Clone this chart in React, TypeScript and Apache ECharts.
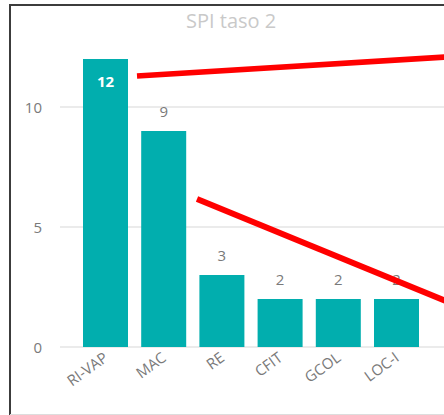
import React, { useEffect, useRef } from "react";
import * as echarts from "echarts";

const categories = ["RI-VAP", "MAC", "RE", "CFIT", "GCOL", "LOC-I"];
const values = [12, 9, 3, 2, 2, 2];
const yTicks = { min: 0, max: 12, interval: 5 };
const titleText = "SPI taso 2";

const FONT = '"Segoe UI", "Open Sans", sans-serif';
const BAR = "#01AEAE";
const LABEL = "#7a7a7a";

export default function App() {
  const ref = useRef<HTMLDivElement>(null);
  useEffect(() => {
    if (!ref.current) return;
    const chart = echarts.init(ref.current, undefined, { renderer: "svg" });
    chart.setOption({
      animation: false,
      backgroundColor: "#ffffff",
      title: {
        text: titleText,
        left: 186,
        top: 10,
        padding: 0,
        textStyle: { fontFamily: FONT, fontSize: 20, fontWeight: "normal", color: "#c9c9c9" },
      },
      grid: [
        { left: 60, right: -20, top: 59, bottom: 68 },
        { left: 76.4, width: 349.2, top: 59, bottom: 68 },
      ],
      xAxis: [
        { gridIndex: 0, type: "value", min: 0, max: 1, show: false },
        {
          gridIndex: 1,
          type: "category",
          data: categories,
          axisLine: { show: false },
          axisTick: { show: false },
          axisLabel: {
            rotate: 36,
            margin: 8,
            color: LABEL,
            fontFamily: FONT,
            fontSize: 15,
            interval: 0,
          },
        },
      ],
      yAxis: [
        {
          gridIndex: 0,
          type: "value",
          min: yTicks.min,
          max: yTicks.max,
          interval: yTicks.interval,
          axisLine: { show: false },
          axisTick: { show: false },
          axisLabel: {
            color: LABEL,
            fontFamily: FONT,
            fontSize: 15,
            margin: 18,
            showMaxLabel: false,
          },
          splitLine: {
            show: true,
            showMaxLine: false,
            lineStyle: { color: "#ebebeb", width: 2 },
          },
        },
        {
          gridIndex: 1,
          type: "value",
          min: yTicks.min,
          max: yTicks.max,
          show: false,
          splitLine: { show: false },
        },
      ],
      series: [
        {
          type: "bar",
          xAxisIndex: 1,
          yAxisIndex: 1,
          barWidth: 45,
          itemStyle: { color: BAR },
          label: {
            show: true,
            position: "top",
            distance: 13,
            color: LABEL,
            fontFamily: FONT,
            fontSize: 15,
          },
          data: values.map((v, i) =>
            i === 0
              ? {
                  value: v,
                  label: {
                    position: "insideTop",
                    distance: 14,
                    color: "#ffffff",
                    fontWeight: "bold",
                    fontSize: 15,
                  },
                }
              : v
          ),
        },
      ],
      graphic: [
        {
          type: "line",
          z: 100,
          shape: { x1: 10, y1: 5, x2: 10, y2: 415 },
          style: { stroke: "#3c3c3c", lineWidth: 2 },
        },
        {
          type: "line",
          z: 100,
          shape: { x1: 9, y1: 5, x2: 444, y2: 5 },
          style: { stroke: "#3c3c3c", lineWidth: 2 },
        },
        {
          type: "line",
          z: 100,
          shape: { x1: 10, y1: 414.5, x2: 444, y2: 414.5 },
          style: { stroke: "#dddddd", lineWidth: 1 },
        },
        {
          type: "line",
          z: 100,
          shape: { x1: 137, y1: 76, x2: 446, y2: 57 },
          style: { stroke: "#ff0000", lineWidth: 5.5, lineCap: "butt" },
        },
        {
          type: "line",
          z: 100,
          shape: { x1: 197, y1: 199, x2: 446, y2: 301 },
          style: { stroke: "#ff0000", lineWidth: 6, lineCap: "butt" },
        },
      ],
    });
    return () => chart.dispose();
  }, []);
  return (
    <div
      ref={ref}
      style={{ position: "absolute", left: 0, top: 0, width: 444, height: 415 }}
    />
  );
}
